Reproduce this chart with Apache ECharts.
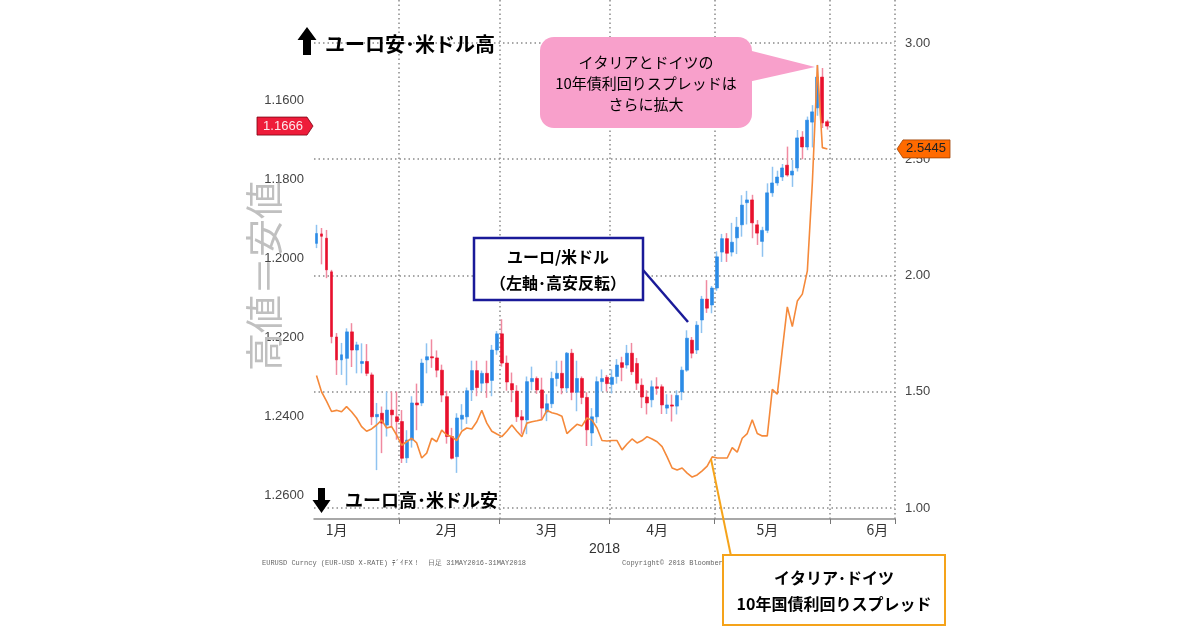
<!DOCTYPE html>
<html><head><meta charset="utf-8">
<script src="https://cdn.jsdelivr.net/npm/echarts@6/dist/echarts.min.js"></script>
<style>html,body{margin:0;padding:0;background:#fff}#c{width:1200px;height:630px}</style>
</head><body><div id="c"></div>
<script>
// ---- data ----
const dates = [
 '2018-01-09','2018-01-10','2018-01-11','2018-01-12','2018-01-15','2018-01-16','2018-01-17','2018-01-18','2018-01-19',
 '2018-01-22','2018-01-23','2018-01-24','2018-01-25','2018-01-26','2018-01-29','2018-01-30','2018-01-31',
 '2018-02-01','2018-02-02','2018-02-05','2018-02-06','2018-02-07','2018-02-08','2018-02-09','2018-02-12','2018-02-13',
 '2018-02-14','2018-02-15','2018-02-16','2018-02-19','2018-02-20','2018-02-21','2018-02-22','2018-02-23','2018-02-26',
 '2018-02-27','2018-02-28',
 '2018-03-01','2018-03-02','2018-03-05','2018-03-06','2018-03-07','2018-03-08','2018-03-09','2018-03-12','2018-03-13',
 '2018-03-14','2018-03-15','2018-03-16','2018-03-19','2018-03-20','2018-03-21','2018-03-22','2018-03-23','2018-03-26',
 '2018-03-27','2018-03-28','2018-03-29','2018-03-30',
 '2018-04-02','2018-04-03','2018-04-04','2018-04-05','2018-04-06','2018-04-09','2018-04-10','2018-04-11','2018-04-12',
 '2018-04-13','2018-04-16','2018-04-17','2018-04-18','2018-04-19','2018-04-20','2018-04-23','2018-04-24','2018-04-25',
 '2018-04-26','2018-04-27','2018-04-30',
 '2018-05-01','2018-05-02','2018-05-03','2018-05-04','2018-05-07','2018-05-08','2018-05-09','2018-05-10','2018-05-11',
 '2018-05-14','2018-05-15','2018-05-16','2018-05-17','2018-05-18','2018-05-21','2018-05-22','2018-05-23','2018-05-24',
 '2018-05-25','2018-05-28','2018-05-29','2018-05-30','2018-05-31'
];
const padDates = ['2018-06-01','2018-06-04','2018-06-05','2018-06-06','2018-06-07','2018-06-08','2018-06-11','2018-06-12',
 '2018-06-13','2018-06-14','2018-06-15','2018-06-18','2018-06-19'];

const open = [
 1.1963,1.1939,1.1950,1.2035,1.2200,1.2258,1.2254,1.2187,1.2233,1.2267,1.2262,1.2296,1.2402,1.2393,1.2423,1.2385,1.2402,
 1.2414,1.2506,1.2461,1.2367,1.2367,1.2258,1.2250,1.2253,1.2284,1.2351,1.2452,1.2503,1.2408,1.2402,1.2334,1.2285,1.2317,1.2292,1.2310,1.2233,
 1.2192,1.2266,1.2318,1.2337,1.2402,1.2410,1.2313,1.2305,1.2334,1.2390,1.2369,1.2305,1.2292,1.2329,1.2241,1.2340,1.2305,1.2353,1.2443,1.2402,1.2313,1.2302,
 1.2320,1.2300,1.2265,1.2271,1.2241,1.2267,1.2322,1.2352,1.2359,1.2326,1.2326,1.2380,1.2372,1.2375,1.2339,1.2284,1.2208,1.2233,1.2157,1.2104,1.2119,
 1.2076,1.1985,1.1951,1.1985,1.1949,1.1916,1.1860,1.1853,1.1916,1.1958,1.1930,1.1835,1.1810,1.1795,1.1765,1.1790,1.1772,1.1694,1.1719,1.1656,1.1620,1.1542,1.1655
];
const close = [
 1.1938,1.1945,1.2030,1.2199,1.2258,1.2245,1.2187,1.2233,1.2220,1.2262,1.2292,1.2402,1.2396,1.2418,1.2385,1.2397,1.2414,
 1.2507,1.2461,1.2367,1.2372,1.2266,1.2250,1.2253,1.2284,1.2347,1.2452,1.2507,1.2405,1.2398,1.2336,1.2285,1.2328,1.2292,1.2316,1.2233,1.2192,
 1.2266,1.2314,1.2334,1.2402,1.2410,1.2313,1.2305,1.2334,1.2380,1.2369,1.2305,1.2292,1.2329,1.2241,1.2340,1.2305,1.2353,1.2435,1.2402,1.2313,1.2305,1.2318,
 1.2302,1.2271,1.2277,1.2241,1.2288,1.2317,1.2352,1.2367,1.2326,1.2330,1.2372,1.2372,1.2375,1.2348,1.2284,1.2203,1.2241,1.2170,1.2104,1.2127,1.2076,
 1.1997,1.1951,1.1988,1.1960,1.1922,1.1866,1.1853,1.1911,1.1937,1.1930,1.1835,1.1810,1.1795,1.1772,1.1790,1.1780,1.1696,1.1719,1.1651,1.1630,1.1542,1.1658,1.1666
];
const low = [
 1.1916,1.1924,1.1929,1.2030,1.2190,1.2215,1.2178,1.2165,1.2212,1.2216,1.2218,1.2290,1.2367,1.2376,1.2338,1.2338,1.2338,
 1.2385,1.2436,1.2350,1.2318,1.2255,1.2216,1.2206,1.2234,1.2270,1.2336,1.2430,1.2393,1.2370,1.2328,1.2260,1.2260,1.2285,1.2260,1.2220,1.2185,
 1.2155,1.2247,1.2290,1.2322,1.2385,1.2300,1.2275,1.2300,1.2303,1.2345,1.2288,1.2260,1.2260,1.2238,1.2230,1.2260,1.2300,1.2340,1.2380,1.2300,1.2282,1.2296,
 1.2282,1.2256,1.2250,1.2220,1.2215,1.2253,1.2305,1.2335,1.2310,1.2302,1.2320,1.2345,1.2346,1.2335,1.2275,1.2183,1.2200,1.2160,1.2096,1.2056,1.2071,
 1.1983,1.1939,1.1937,1.1911,1.1896,1.1841,1.1830,1.1840,1.1904,1.1921,1.1811,1.1769,1.1779,1.1762,1.1718,1.1752,1.1676,1.1679,1.1642,1.1613,1.1511,1.1519,1.1650
];
const high = [
 1.1975,1.2016,1.2051,1.2216,1.2296,1.2296,1.2322,1.2276,1.2292,1.2292,1.2299,1.2423,1.2537,1.2494,1.2452,1.2427,1.2460,
 1.2519,1.2519,1.2480,1.2436,1.2375,1.2292,1.2278,1.2302,1.2365,1.2470,1.2510,1.2544,1.2435,1.2420,1.2362,1.2350,1.2338,1.2354,1.2350,1.2245,
 1.2275,1.2336,1.2365,1.2415,1.2445,1.2446,1.2335,1.2344,1.2410,1.2413,1.2380,1.2325,1.2345,1.2340,1.2360,1.2388,1.2370,1.2476,1.2476,1.2418,1.2338,1.2338,
 1.2343,1.2318,1.2312,1.2280,1.2296,1.2334,1.2380,1.2396,1.2378,1.2346,1.2395,1.2395,1.2414,1.2396,1.2360,1.2288,1.2254,1.2243,1.2190,1.2139,1.2140,
 1.2083,1.2010,1.2010,1.1996,1.1990,1.1946,1.1915,1.1950,1.1967,1.1997,1.1937,1.1845,1.1817,1.1805,1.1794,1.1820,1.1781,1.1750,1.1727,1.1720,1.1640,1.1671,1.1675
];
const spread = [
 1.57,1.50,1.46,1.415,1.42,1.414,1.436,1.414,1.387,1.35,1.33,1.34,1.357,1.378,1.344,1.35,1.314,
 1.27,1.285,1.30,1.28,1.215,1.236,1.30,1.285,1.335,1.314,1.307,1.29,1.33,1.344,1.34,1.371,1.42,1.365,1.33,1.318,
 1.307,1.33,1.357,1.33,1.307,1.365,1.371,1.375,1.38,1.42,1.41,1.404,1.395,1.32,1.34,1.36,1.353,1.387,1.378,1.344,1.29,1.288,
 1.29,1.29,1.25,1.275,1.297,1.28,1.29,1.307,1.297,1.285,1.264,1.22,1.172,1.163,1.172,1.15,1.133,1.142,1.16,1.18,1.22,
 1.215,1.215,1.215,1.26,1.24,1.30,1.32,1.38,1.32,1.31,1.31,1.51,1.49,1.68,1.865,1.78,1.89,1.92,2.02,2.40,2.905,2.55,2.5445
];
const monthStarts = ['2018-02-01','2018-03-01','2018-04-02','2018-05-01','2018-06-01'];
const monthLabelDates = ['2018-01-15','2018-02-14','2018-03-14','2018-04-13','2018-05-15','2018-06-14'];
const monthLabels = ['1月','2月','3月','4月','5月','6月'];
const lastPrice = 1.1666;
const lastSpread = 2.5445;

// ---- chart ----
const categories = dates.concat(padDates);
const wickData = dates.map((d, i) => [open[i], close[i], low[i], high[i]]);
const bodyData = dates.map((d, i) => [open[i], close[i], Math.min(open[i], close[i]), Math.max(open[i], close[i])]);

const RED = '#e8112d', BLUE = '#2b8be6', RED_W = '#f08aa0', BLUE_W = '#8fc3f0';
const GRID = '#8a8a8a';
const NUMFONT = 'Liberation Sans, Arial, sans-serif';
const JPFONT = '"Noto Sans CJK JP", sans-serif';

const chart = echarts.init(document.getElementById('c'), null, {renderer: 'canvas'});
const option = {
  animation: false,
  backgroundColor: '#fff',
  grid: {left: 314, right: 305, top: 0, bottom: 111, containLabel: false},
  xAxis: {
    type: 'category', data: categories, boundaryGap: true,
    axisLine: {lineStyle: {color: '#8c8c8c', width: 1.5}},
    axisTick: {show: true, interval: (i, v) => monthStarts.includes(v), length: 5, lineStyle: {color: '#777'}},
    axisLabel: {interval: (i, v) => monthLabelDates.includes(v),
      formatter: v => monthLabels[monthLabelDates.indexOf(v)] || '',
      color: '#333', fontSize: 14, margin: 4, fontFamily: JPFONT},
    splitLine: {show: true, interval: (i, v) => monthStarts.includes(v), lineStyle: {type: [1.5, 3], color: GRID, width: 1.5}},
    name: '2018', nameLocation: 'middle', nameGap: 21,
    nameTextStyle: {fontSize: 14, color: '#333', fontFamily: NUMFONT}
  },
  yAxis: [
    {type: 'value', position: 'left', inverse: true, min: 1.134684, max: 1.266076, splitNumber: 6,
     axisLine: {show: false}, axisTick: {show: false}, splitLine: {show: false},
     axisLabel: {formatter: v => v < 1.15 ? '' : v.toFixed(4), showMinLabel: false, showMaxLabel: false,
       color: '#444', fontSize: 13, fontFamily: NUMFONT, margin: 10}},
    {type: 'value', position: 'right', min: 0.952688, max: 3.184946, splitNumber: 5,
     axisLine: {show: false}, axisTick: {show: false},
     splitLine: {show: true, showMinLine: false, showMaxLine: false, lineStyle: {type: [1.5, 3], color: GRID, width: 1.5}},
     axisLabel: {formatter: v => v.toFixed(2), showMinLabel: false, showMaxLabel: false,
       color: '#444', fontSize: 13, fontFamily: NUMFONT, margin: 10}}
  ],
  series: [
    {type: 'candlestick', name: 'wick', yAxisIndex: 0, data: wickData, barWidth: 0.6, z: 3,
     itemStyle: {color: RED_W, color0: BLUE_W, borderColor: RED_W, borderColor0: BLUE_W, borderWidth: 1.5},
     emphasis: {disabled: true}},
    {type: 'candlestick', name: 'body', yAxisIndex: 0, data: bodyData, barWidth: 3.4, z: 4,
     itemStyle: {color: RED, color0: BLUE, borderColor: RED, borderColor0: BLUE, borderWidth: 0.6},
     emphasis: {disabled: true}},
    {type: 'line', name: 'spread', yAxisIndex: 1, data: spread, showSymbol: false, z: 5,
     lineStyle: {color: '#f5893a', width: 1.6}, emphasis: {disabled: true}}
  ]
};
chart.setOption(option);

// ---- annotations ----
const pY = chart.convertToPixel({yAxisIndex: 0}, lastPrice);
const sY = chart.convertToPixel({yAxisIndex: 1}, lastSpread);
const txt = (x, y, text, o) => ({type: 'text', x, y, z: 20, style: Object.assign({text, fill: '#000', fontFamily: JPFONT, fontSize: 16,
  fontWeight: 'bold', align: 'center', verticalAlign: 'middle'}, o || {})});

const graphics = [
  // vertical watermark
  {type: 'text', x: 264, y: 276, rotation: Math.PI / 2, z: 1,
   style: {text: '高値＝安値', fill: '#c0c0c0', fontFamily: JPFONT, fontSize: 38, align: 'center', verticalAlign: 'middle'}},
  // up arrow + text
  {type: 'polygon', z: 20, shape: {points: [[307, 27], [316.5, 40], [311, 40], [311, 55], [303, 55], [303, 40], [297.5, 40]]}, style: {fill: '#000'}},
  txt(325, 44, 'ユーロ安･米ドル高', {align: 'left', fontSize: 20}),
  // down arrow + text
  {type: 'polygon', z: 20, shape: {points: [[318, 488], [325, 488], [325, 500], [330.5, 500], [321.5, 513], [312.5, 500], [318, 500]]}, style: {fill: '#000'}},
  txt(345, 500, 'ユーロ高･米ドル安', {align: 'left', fontSize: 18}),
  // last price tag (left)
  {type: 'polygon', z: 20, shape: {points: [[257, pY - 9], [307, pY - 9], [313, pY], [307, pY + 9], [257, pY + 9]]},
   style: {fill: '#ee1c3a', stroke: '#7a0010', lineWidth: 0.8}},
  txt(283, pY, lastPrice.toFixed(4), {fill: '#fde8ec', fontFamily: NUMFONT, fontSize: 13, fontWeight: 'normal'}),
  // last spread tag (right)
  {type: 'polygon', z: 20, shape: {points: [[897, sY], [903, sY - 9], [950, sY - 9], [950, sY + 9], [903, sY + 9]]},
   style: {fill: '#ff6a00', stroke: '#a04000', lineWidth: 0.8}},
  txt(926, sY, lastSpread.toFixed(4), {fill: '#222', fontFamily: NUMFONT, fontSize: 13, fontWeight: 'normal'}),
  // pink callout
  {type: 'polygon', z: 19, shape: {points: [[748, 50], [815, 67], [748, 82]]}, style: {fill: '#f8a0cb'}},
  {type: 'rect', z: 19, shape: {x: 540, y: 37, width: 212, height: 91, r: 14}, style: {fill: '#f8a0cb'}},
  txt(646, 62, 'イタリアとドイツの', {fontWeight: 'normal', fontSize: 15}),
  txt(646, 83, '10年債利回りスプレッドは', {fontWeight: 'normal', fontSize: 15}),
  txt(646, 104, 'さらに拡大', {fontWeight: 'normal', fontSize: 15}),
  // blue box
  {type: 'line', z: 19, shape: {x1: 643, y1: 270, x2: 688, y2: 322}, style: {stroke: '#1a1a99', lineWidth: 2.5}},
  {type: 'rect', z: 19, shape: {x: 474, y: 238, width: 169, height: 62}, style: {fill: '#fff', stroke: '#1a1a99', lineWidth: 2.5}},
  txt(558, 257, 'ユーロ/米ドル'),
  txt(558, 283, '（左軸･高安反転）'),
  // orange box
  {type: 'line', z: 19, shape: {x1: 731, y1: 556, x2: 711, y2: 459}, style: {stroke: '#f5a31a', lineWidth: 2}},
  {type: 'text', x: 262, y: 563, z: 18, style: {text: 'EURUSD Curncy (EUR-USD X-RATE) ﾃﾞｲFX！  日足 31MAY2016-31MAY2018',
    fill: '#666', fontSize: 7, fontFamily: 'Liberation Mono, monospace', verticalAlign: 'middle'}},
  {type: 'text', x: 622, y: 563, z: 18, style: {text: 'Copyright© 2018 Bloomberg Finance L.P.',
    fill: '#666', fontSize: 7, fontFamily: 'Liberation Mono, monospace', verticalAlign: 'middle'}},
  {type: 'rect', z: 19, shape: {x: 723, y: 555, width: 222, height: 70}, style: {fill: '#fff', stroke: '#f5a31a', lineWidth: 2}},
  txt(834, 578, 'イタリア･ドイツ'),
  txt(834, 604, '10年国債利回りスプレッド')
];
chart.setOption({graphic: graphics});
</script></body></html>
